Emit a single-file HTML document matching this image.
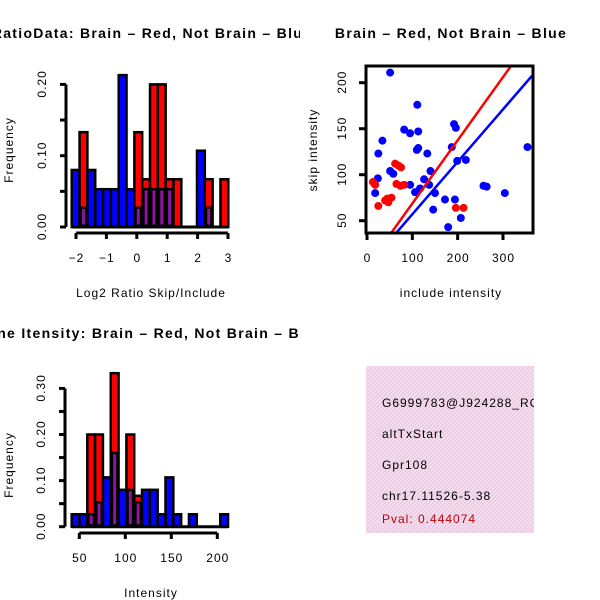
<!DOCTYPE html>
<html><head><meta charset="utf-8"><style>
html,body{margin:0;padding:0;background:#fff}
svg{display:block;font-family:"Liberation Sans",sans-serif}
svg text{letter-spacing:1px}
svg text.t{letter-spacing:1.3px}
</style></head><body>
<svg id="s" width="600" height="600" viewBox="0 0 600 600" xmlns="http://www.w3.org/2000/svg">
<defs>
<clipPath id="cl"><rect x="0" y="0" width="300" height="300"/></clipPath>
<clipPath id="cl2"><rect x="0" y="300" width="300" height="300"/></clipPath>
<clipPath id="cr"><rect x="300" y="0" width="300" height="300"/></clipPath>
<clipPath id="box"><rect x="366" y="66" width="167" height="167"/></clipPath>
<clipPath id="tb"><rect x="366" y="366" width="168" height="167"/></clipPath>
<pattern id="hatch" width="4" height="4" patternUnits="userSpaceOnUse">
<rect width="4" height="4" fill="#f8dcf2"/><path d="M-1,1 l2,-2 M0,4 l4,-4 M3,5 l2,-2" stroke="#e2c8da" stroke-width="1"/></pattern>
<pattern id="pp" width="3" height="3" patternUnits="userSpaceOnUse">
<rect width="3" height="3" fill="#a010b0"/><path d="M0,3 l3,-3" stroke="#7a1a8a" stroke-width="1"/></pattern>
</defs>
<g id="p1" clip-path="url(#cl)">
<text class="t" x="152" y="38" text-anchor="middle" font-weight="bold" font-size="14">RatioData: Brain – Red, Not Brain – Blue</text>
<text transform="translate(13,150) rotate(-90)" text-anchor="middle" font-size="12">Frequency</text>
<text x="151" y="297" text-anchor="middle" font-size="12">Log2 Ratio Skip/Include</text>
</g>
<g id="p2" clip-path="url(#cr)">
<text class="t" x="451" y="38" text-anchor="middle" font-weight="bold" font-size="14">Brain – Red, Not Brain – Blue</text>
<text transform="translate(317,150) rotate(-90)" text-anchor="middle" font-size="12">skip intensity</text>
<text x="451" y="297" text-anchor="middle" font-size="12">include intensity</text>
</g>
<g id="p3" clip-path="url(#cl2)">
<text class="t" x="150" y="338" text-anchor="middle" font-weight="bold" font-size="14">Gene Itensity: Brain – Red, Not Brain – Blue</text>
<text transform="translate(13,465) rotate(-90)" text-anchor="middle" font-size="12">Frequency</text>
<text x="151" y="597" text-anchor="middle" font-size="12">Intensity</text>
</g>
<g clip-path="url(#tb)">
<rect x="366" y="366" width="168" height="167" fill="url(#hatch)"/>
<text x="382" y="407" font-size="12">G6999783@J924288_RC</text>
<text x="382" y="438" font-size="12">altTxStart</text>
<text x="382" y="469" font-size="12">Gpr108</text>
<text x="382" y="500" font-size="12">chr17.11526-5.38</text>
<text x="382" y="523" font-size="12" fill="#c00000">Pval: 0.444074</text>
</g>
</svg>
<script>
// Ratio histogram data
const ratioBlue=[0.08,0.027,0.08,0.053,0.053,0.053,0.213,0.053,0.027,0.053,0.053,0.053,0.053,0,0,0,0.107,0.027,0,0];
const ratioRed=[0,0.133,0,0,0,0,0,0,0.133,0.067,0.2,0.2,0.067,0.067,0,0,0,0.067,0,0.067];
const ratioXTicks=[-2,-1,0,1,2,3];
const ratioYTicks=[0,0.05,0.1,0.15,0.2];
const ratioYLabels=["0.00","0.10","0.20"];
// Intensity histogram data
const intBlue=[0.027,0.027,0.027,0.053,0.107,0.16,0.08,0.08,0.053,0.08,0.08,0.027,0.107,0.027,0,0.027,0,0,0,0.027];
const intRed=[0,0,0.2,0.2,0,0.333,0,0.2,0.067,0,0,0,0,0,0,0,0,0,0,0];
const intXTicks=[50,100,150,200];
const intYTicks=[0,0.05,0.1,0.15,0.2,0.25,0.3];
const intYLabels=["0.00","0.10","0.20","0.30"];
// Scatter data
const blueX=[51,111,82,95,113,34,25,133,110,113,192,196,187,199,218,354,51,58,140,24,95,126,137,106,18,150,257,264,304,172,194,146,207,179,117];
const blueY=[211,176,149,145,147,137,123,123,127,129,155,151,130,115,116,130,104,101,104,96,89,95,89,81,80,80,88,87,80,73,73,62,53,43,85];
const redX=[13,18,25,40,45,54,47,62,69,75,65,74,82,196,213];
const redY=[92,89,66,72,74,75,70,112,110,108,90,88,89,64,64];
const redSlope=0.687, blueSlope=0.57;
const scXTicks=[0,100,200,300];
const scYTicks=[50,100,150,200];

const NS="http://www.w3.org/2000/svg";
function mk(par,tag,attrs){const e=document.createElementNS(NS,tag);for(const k in attrs)e.setAttribute(k,attrs[k]);par.appendChild(e);return e;}

function hist(g,blue,red,x0,bw,xs,ys,xTicks,yTicks,yLabels,axX,axY,prefix){
  const yb=ys(0);
  for(let i=0;i<blue.length;i++){
    const l=xs(x0+i*bw),r=xs(x0+(i+1)*bw);
    const b=blue[i],rd=red[i];
    const mx=Math.max(b,rd),mn=Math.min(b,rd);
    if(mx<=0)continue;
    const top=b>=rd?'#0000ff':'#ff0000';
    const o=mk(g,'rect',{x:l,y:ys(mx),width:r-l,height:yb-ys(mx),fill:top,stroke:'#000','stroke-width':2.5});
    
    
    if(mn>0){
      const p=mk(g,'rect',{x:l+1.2,y:ys(mn),width:r-l-2.4,height:yb-ys(mn)-1.2,fill:'url(#pp)',stroke:'#000','stroke-width':b>=rd?0:2.5});
      
      
    }
  }
  mk(g,'line',{x1:xs(x0),x2:xs(x0+blue.length*bw),y1:yb,y2:yb,stroke:'#000','stroke-width':3});
  const xa=mk(g,'g',{});
  
  
  mk(xa,'line',{x1:xs(xTicks[0]),x2:xs(xTicks[xTicks.length-1]),y1:axY,y2:axY,stroke:'#000','stroke-width':3});
  xTicks.forEach(t=>{mk(xa,'line',{x1:xs(t),x2:xs(t),y1:axY,y2:axY+6,stroke:'#000','stroke-width':3});
    const tx=mk(xa,'text',{x:xs(t)+0.5,y:axY+29,'text-anchor':'middle','font-size':12});tx.textContent=String(t).replace('-','−');});
  const ya=mk(g,'g',{});
  
  
  mk(ya,'line',{x1:axX,x2:axX,y1:ys(yTicks[0]),y2:ys(yTicks[yTicks.length-1]),stroke:'#000','stroke-width':3});
  yTicks.forEach(t=>mk(ya,'line',{x1:axX-6,x2:axX,y1:ys(t),y2:ys(t),stroke:'#000','stroke-width':3}));
  yLabels.forEach(s=>{const v=parseFloat(s);const tx=mk(ya,'text',{transform:`translate(${axX-20},${ys(v)-0.5}) rotate(-90)`,'text-anchor':'middle','font-size':12});tx.textContent=s;});
}
hist(document.getElementById('p1'),ratioBlue,ratioRed,-2.14,0.2575,v=>76+30.4*(v+2),v=>227-v*713,ratioXTicks,ratioYTicks,ratioYLabels,66,233,'ratio');
hist(document.getElementById('p3'),intBlue,intRed,41.7,8.5,v=>79.3+0.92*(v-50),v=>526.7-v*461,intXTicks,intYTicks,intYLabels,65,533,'intensity');

const g2=document.getElementById('p2');
const sx=v=>367+0.4533*v, sy=v=>220.7-0.92*(v-50);
const inner=mk(g2,'g',{'clip-path':'url(#box)'});
blueX.forEach((x,i)=>{const c=mk(inner,'circle',{cx:sx(x),cy:sy(blueY[i]),r:4,fill:'#0000ff'});
  
  });
redX.forEach((x,i)=>{const c=mk(inner,'circle',{cx:sx(x),cy:sy(redY[i]),r:4,fill:'#ff0000'});
  
  });
const rl=mk(inner,'line',{x1:sx(0),y1:sy(0),x2:sx(400),y2:sy(400*redSlope),stroke:'#ff0000','stroke-width':2.5});


const bl=mk(inner,'line',{x1:sx(0),y1:sy(0),x2:sx(400),y2:sy(400*blueSlope),stroke:'#0000ff','stroke-width':2.5});


const fr=mk(g2,'rect',{x:366,y:66,width:167,height:167,fill:'none',stroke:'#000','stroke-width':3});


scXTicks.forEach(t=>{mk(g2,'line',{x1:sx(t),x2:sx(t),y1:233,y2:240,stroke:'#000','stroke-width':3});
  const tx=mk(g2,'text',{x:sx(t)+0.5,y:262,'text-anchor':'middle','font-size':12});tx.textContent=t;});
scYTicks.forEach(t=>{mk(g2,'line',{x1:359,x2:366,y1:sy(t),y2:sy(t),stroke:'#000','stroke-width':3});
  const tx=mk(g2,'text',{transform:`translate(346,${sy(t)-0.5}) rotate(-90)`,'text-anchor':'middle','font-size':12});tx.textContent=t;});
</script>
</body></html>
